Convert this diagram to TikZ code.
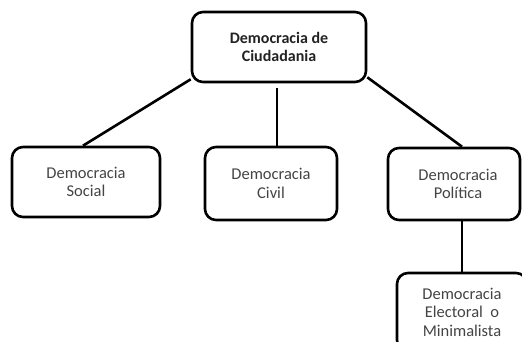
\documentclass[tikz,border=0pt]{standalone}
\usepackage{fontspec}
\setmainfont{Carlito}
\usetikzlibrary{calc, positioning}
\definecolor{txtgray}{HTML}{444444}
\definecolor{txtdark}{HTML}{222222}

\begin{document}
\begin{tikzpicture}[x=1pt, y=-1pt,
    box/.style={draw, line width=2.6pt, rounded corners=11pt, align=center,
      text=txtgray, font=\fontsize{16.5}{18.5}\selectfont, inner sep=2pt},
    link/.style={line width=2.6pt}]
  \useasboundingbox (0,0) rectangle (522,342);
  \clip (0,0) rectangle (522,342);

  % Root
  \node[box, minimum width=174pt, minimum height=70pt, text=txtdark,
    font=\fontsize{16}{18}\selectfont\bfseries] (top) at (279,47)
    {Democracia de\\Ciudadania};

  % Second level
  \node[box, minimum width=148pt, minimum height=70pt] (social) at (86,182)
    {Democracia\\Social};
  \node[box, minimum width=132pt, minimum height=73pt] (civil) at (271,183.5)
    {Democracia\\Civil};
  \node[box, minimum width=132pt, minimum height=72pt] (politica) at (454,184)
    {\hspace*{8pt}Democracia\\\hspace*{8pt}Política};

  % Third level
  \node[box, minimum width=130pt, minimum height=78pt] (electoral) at (462,312)
    {Democracia\\Electoral\ \ o\\Minimalista};

  % Connectors
  \draw[link] ([yshift=4pt]top.south west) -- ([xshift=-3pt]social.north);
  \draw[link] ([xshift=-2pt, yshift=-5pt]top.south) -- ([xshift=-2pt]top.south |- civil.north);
  \draw[link] ([yshift=6pt]top.south east) -- (politica.north -| electoral.north);
  \draw[link] (politica.south -| electoral.north) -- (electoral.north);
\end{tikzpicture}
\end{document}
